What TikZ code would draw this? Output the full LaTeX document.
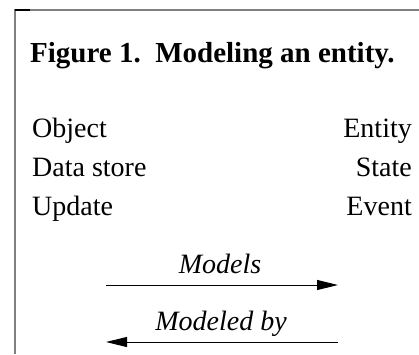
\documentclass[tikz,border=0pt]{standalone}
\usepackage{fontspec}
\setmainfont{Liberation Serif}
\usetikzlibrary{positioning,arrows.meta}

\begin{document}
\begin{tikzpicture}[x=1pt,y=-1pt,
	every node/.style={inner sep=0pt,font=\fontsize{28}{34}\selectfont},
	leftword/.style={anchor=base west},
	rightword/.style={anchor=base east},
	relarrow/.style={line width=1pt,-{Triangle[length=21pt,width=10pt]}}]
		\def \lx {32}
		\def \rx {412}
		\def \gap {39}
		\useasboundingbox (0,0) rectangle (419,354);
		
		%frame
		\draw [gray, line width=1.2pt] (15,354) -- (15,10) -- (419,10);
		\draw [line width=1.5pt] (15,10) -- (30,10);
		
		%title
		\node[leftword,font=\fontsize{29}{34}\selectfont\bfseries] (title) at (30,62) {Figure 1.\ \ Modeling an entity.};
		
		%left column
		\node[leftword] (object) at (\lx,137) {Object};
		\node[leftword] (store) at (\lx,137+\gap) {Data store};
		\node[leftword] (update) at (\lx,137+2*\gap) {Update};
		
		%right column
		\node[rightword] (entity) at (\rx,137) {Entity};
		\node[rightword] (state) at (\rx,137+\gap) {State};
		\node[rightword] (event) at (\rx,137+2*\gap) {Event};
		
		%arrows
		\coordinate (mstart) at (106,285);
		\coordinate (mend) at (338,285);
		\node[anchor=base] (models) at (220,273) {\itshape Models};
		\draw [relarrow] (mstart) -- (mend);
		
		\coordinate (bstart) at (338,342);
		\coordinate (bend) at (106,342);
		\node[anchor=base] (modeledby) at (221,330) {\itshape Modeled by};
		\draw [relarrow] (bstart) -- (bend);
\end{tikzpicture}
\end{document}
